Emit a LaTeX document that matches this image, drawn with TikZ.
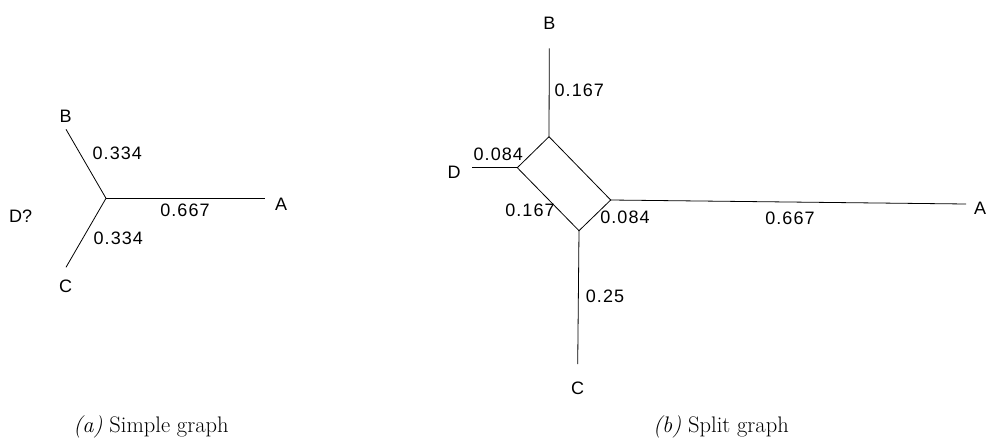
\documentclass[tikz,border=0pt]{standalone}
\usepackage{fontspec}
\newfontfamily\lblfont{Liberation Sans}
\newfontfamily\numfont[LetterSpace=6]{Liberation Sans}
\begin{document}
\begin{tikzpicture}[x=1pt,y=-1pt,
  edge/.style={line width=0.8pt,black},
  lbl/.style={inner sep=0pt,font=\fontsize{18}{21}\selectfont\lblfont},
  num/.style={inner sep=0pt,font=\fontsize{18}{21}\selectfont\numfont},
  captext/.style={inner sep=0pt,anchor=base,font=\fontsize{22.5}{26}\selectfont}]
\useasboundingbox (0,0) rectangle (987,439);
% ---- (a) simple graph ----
\coordinate (o) at (106,198.3);
\coordinate (bA) at (66,129.3);
\coordinate (cA) at (66,267.3);
\coordinate (aA) at (265,198.3);
\draw[edge] (o) -- (bA);
\draw[edge] (o) -- (cA);
\draw[edge] (o) -- (aA);
\node[lbl] (Bl) at (65.7,116.7) {B};
\node[lbl] (Cl) at (65.7,286.7) {C};
\node[lbl] (Al) at (281,204) {A};
\node[lbl] (Dl) at (20.7,216.7) {D?};
\node[num] (n1) at (117.3,153.3) {0.334};
\node[num] (n2) at (185,210.7) {0.667};
\node[num] (n3) at (118.3,238.3) {0.334};
% ---- (b) split graph ----
\coordinate (bt) at (549.3,48.3);
\coordinate (t) at (549,136.7);
\coordinate (l) at (517.3,167.7);
\coordinate (dend) at (472.3,167.7);
\coordinate (r) at (610.7,200);
\coordinate (bo) at (579,230.7);
\coordinate (aend) at (966,204);
\coordinate (cend) at (577.7,364);
\draw[edge] (bt) -- (t);
\draw[edge] (t) -- (l) -- (bo) -- (r) -- cycle;
\draw[edge] (l) -- (dend);
\draw[edge] (r) -- (aend);
\draw[edge] (bo) -- (cend);
\node[lbl] (Br) at (549.3,23.3) {B};
\node[lbl] (Dr) at (454,172.3) {D};
\node[lbl] (Ar) at (980,208.3) {A};
\node[lbl] (Cr) at (577.7,388.3) {C};
\node[num] (m1) at (579.3,90) {0.167};
\node[num] (m2) at (498.3,154) {0.084};
\node[num] (m3) at (530,210.7) {0.167};
\node[num] (m4) at (625,217.3) {0.084};
\node[num] (m5) at (790,218.3) {0.667};
\node[num] (m6) at (605,296.7) {0.25};
% ---- captions ----
\node[captext] (capa) at (151,432) {\textit{(a)} Simple graph};
\node[captext] (capb) at (721,432) {\textit{(b)} Split graph};
\end{tikzpicture}
\end{document}
